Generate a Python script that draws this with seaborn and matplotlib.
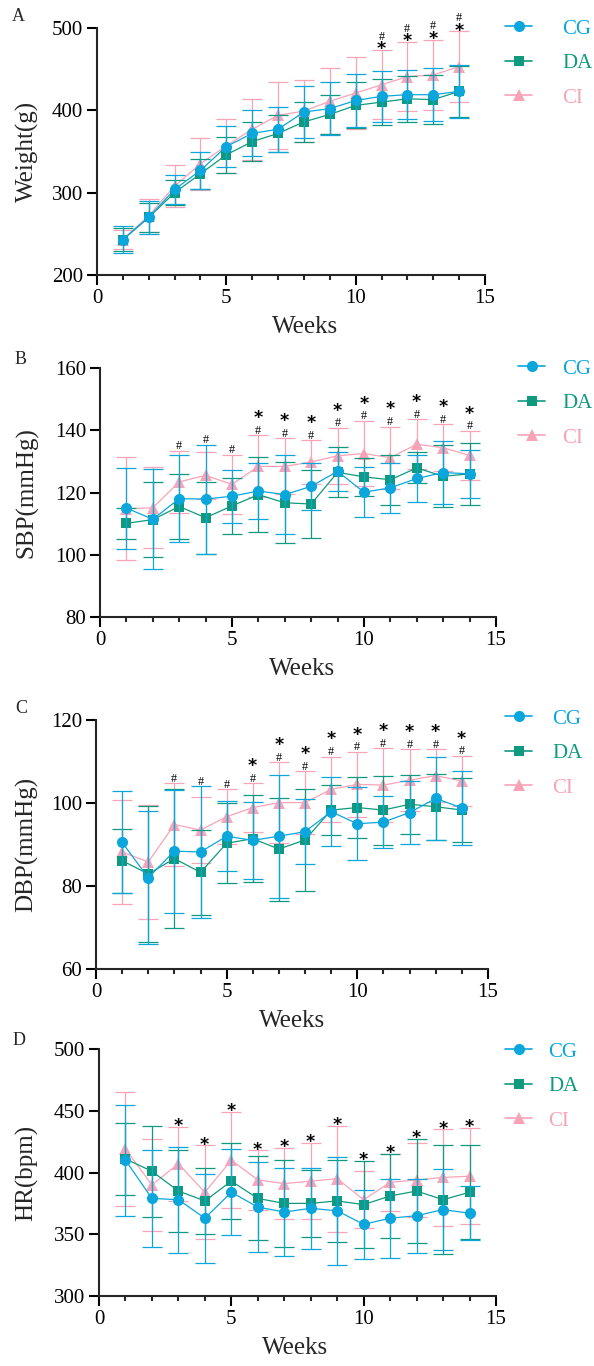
import numpy as np
import pandas as pd
import matplotlib
matplotlib.use('Agg')
import matplotlib.pyplot as plt
from matplotlib.lines import Line2D
from matplotlib.ticker import MultipleLocator
import seaborn as sns

# weekly mean and SD values
weeks = list(range(1, 15))
groups = ['CG', 'DA', 'CI']

weight_cg = [243, 270, 304, 327, 356, 372, 377, 398, 402, 412, 417, 419, 419, 423]
weight_cg_sd = [16, 20, 18, 22, 25, 28, 27, 31, 32, 32, 31, 30, 32, 32]
weight_da = [243, 270, 300, 323, 346, 362, 372, 386, 395, 406, 410, 414, 413, 423]
weight_da_sd = [14, 18, 15, 18, 22, 24, 22, 24, 24, 28, 28, 28, 30, 31]
weight_ci = [243, 272, 308, 335, 357, 377, 394, 399, 411, 421, 431, 441, 443, 453]
weight_ci_sd = [12, 20, 26, 32, 33, 37, 41, 38, 40, 44, 42, 42, 43, 43]

sbp_cg = [115.0, 111.4, 118.0, 117.9, 118.8, 120.5, 119.3, 122.0, 126.8, 120.1, 121.5, 124.5, 126.4, 126.0]
sbp_cg_sd = [13, 16, 14, 17.5, 8.5, 9, 12.7, 7.5, 6.2, 8, 8, 7.5, 10, 7.7]
sbp_da = [110.1, 111.3, 115.5, 111.9, 115.7, 119.3, 116.7, 116.3, 126.5, 125.0, 124.1, 127.9, 125.2, 126.0]
sbp_da_sd = [5, 12, 10.5, 11.5, 9, 12, 13, 11, 8, 6, 8, 5, 10, 10]
sbp_ci = [114.8, 115.1, 123.4, 125.5, 122.6, 128.4, 128.4, 129.8, 131.8, 132.5, 131.2, 135.5, 134.4, 131.9]
sbp_ci_sd = [16.5, 13, 10, 7.5, 9.5, 10, 9, 7, 9, 10.5, 10, 8, 7.5, 8]

dbp_cg = [90.5, 82.0, 88.4, 88.2, 92.0, 91.0, 92.0, 93.1, 97.9, 95.0, 95.4, 97.7, 101.1, 98.8]
dbp_cg_sd = [12.3, 16, 14.8, 15.8, 8.5, 9.3, 14.8, 7.8, 8.3, 8.8, 6.3, 7.5, 9.9, 8.8]
dbp_da = [86.1, 82.9, 86.6, 83.3, 90.3, 91.4, 88.9, 91.1, 98.3, 98.9, 98.3, 99.7, 99.1, 98.3]
dbp_da_sd = [7.7, 16.4, 16.7, 10.3, 9.6, 10.5, 12.4, 12.3, 6, 7.3, 8.3, 7.1, 8, 7.8]
dbp_ci = [88.2, 85.8, 94.8, 93.5, 96.7, 98.9, 100.1, 100.1, 103.3, 104.5, 104.3, 105.5, 106.6, 105.3]
dbp_ci_sd = [12.5, 13.8, 9.9, 7.9, 6.6, 5.8, 9.7, 7.5, 7.9, 7.8, 8.9, 7.4, 6.3, 6]

hr_cg = [410, 379, 378, 363, 384, 372, 368, 371, 369, 358, 363, 365, 370, 367]
hr_cg_sd = [45, 39, 43, 36, 35, 36.5, 35.5, 33, 43.5, 28, 32, 30, 33, 22]
hr_da = [411, 401, 385, 377, 393, 379, 375, 375, 377, 374, 381, 385, 378, 384]
hr_da_sd = [29, 37, 33, 26.5, 31, 34, 35, 27, 33, 35.5, 34, 42, 44, 38]
hr_ci = [419, 390, 407, 384, 410, 394, 391, 393, 395, 378, 392, 394, 396, 397]
hr_ci_sd = [46, 37, 30, 38, 39, 24, 29, 31, 43, 23, 23, 30, 39, 39]

# significance marks (weeks)
weight_star = [11, 12, 13, 14]
weight_hash = [11, 12, 13, 14]
sbp_star = [6, 7, 8, 9, 10, 11, 12, 13, 14]
sbp_hash = [3, 4, 5, 6, 7, 8, 9, 10, 11, 12, 13, 14]
dbp_star = [6, 7, 8, 9, 10, 11, 12, 13, 14]
dbp_hash = [3, 4, 5, 6, 7, 8, 9, 10, 11, 12, 13, 14]
hr_star = [3, 4, 5, 6, 7, 8, 9, 10, 11, 12, 13, 14]
hr_hash = []

colors = {'CG': '#0BA6DC', 'DA': '#0F9A80', 'CI': '#F8A3B7'}
markers = {'CG': 'o', 'DA': 's', 'CI': '^'}
msize = {'CG': 8, 'DA': 7.5, 'CI': 8}
zord = {'CG': 5, 'DA': 4, 'CI': 3}

STAR = r'$\mathbf{*}$'
HASH = r'$_{\#}$'

W, H = 594, 1366
sns.set_style('ticks')
plt.rcParams['font.family'] = 'serif'
plt.rcParams['font.serif'] = ['Liberation Serif', 'DejaVu Serif']
plt.rcParams['mathtext.fontset'] = 'custom'
plt.rcParams['mathtext.rm'] = 'Liberation Serif'
plt.rcParams['mathtext.bf'] = 'DejaVu Sans:bold'
plt.rcParams['mathtext.default'] = 'rm'
plt.rcParams['axes.linewidth'] = 1.5

fig = plt.figure(figsize=(W / 100, H / 100), dpi=100)

# panel setup: letter, ylabel, ylim, yticks, data, stars, hashes, hash_on_top,
# axes box px (left, top, right, bottom), legend (x px, top px, textpad), letter pos, xlabel centre px
panels = [
    ('A', 'Weight(g)', (200, 500), [200, 300, 400, 500],
     (weight_cg, weight_cg_sd, weight_da, weight_da_sd, weight_ci, weight_ci_sd),
     weight_star, weight_hash, True,
     (97, 28, 485, 275), (505, 19, 1.6), (12, 21), 305),
    ('B', 'SBP(mmHg)', (80, 160), [80, 100, 120, 140, 160],
     (sbp_cg, sbp_cg_sd, sbp_da, sbp_da_sd, sbp_ci, sbp_ci_sd),
     sbp_star, sbp_hash, False,
     (100, 368, 496, 617), (518, 359, 0.9), (15, 364), 302),
    ('C', 'DBP(mmHg)', (60, 120), [60, 80, 100, 120],
     (dbp_cg, dbp_cg_sd, dbp_da, dbp_da_sd, dbp_ci, dbp_ci_sd),
     dbp_star, dbp_hash, False,
     (96, 720, 488, 969), (505, 709, 1.07), (15, 713), 292),
    ('D', 'HR(bpm)', (300, 500), [300, 350, 400, 450, 500],
     (hr_cg, hr_cg_sd, hr_da, hr_da_sd, hr_ci, hr_ci_sd),
     hr_star, hr_hash, False,
     (99, 1049, 496, 1296), (505, 1042, 0.85), (13, 1045), 295),
]

for (letter, ylab, ylim, yticks, vals, stars, hashes, hash_top,
     box, leg, lpos, xlab_x) in panels:
    l, t, r, b = box
    ax = fig.add_axes([l / W, 1 - b / H, (r - l) / W, (b - t) / H])

    means = {'CG': vals[0], 'DA': vals[2], 'CI': vals[4]}
    sds = {'CG': vals[1], 'DA': vals[3], 'CI': vals[5]}
    df = pd.DataFrame({
        'week': weeks * 3,
        'value': means['CG'] + means['DA'] + means['CI'],
        'group': ['CG'] * 14 + ['DA'] * 14 + ['CI'] * 14,
    })

    for g in ['CI', 'DA', 'CG']:
        ax.errorbar(weeks, means[g], yerr=sds[g], fmt='none', ecolor=colors[g],
                    elinewidth=0.9, capsize=7, capthick=0.9, zorder=zord[g] - 0.5)
        sub = df[df['group'] == g]
        sns.lineplot(data=sub, x='week', y='value', color=colors[g], marker=markers[g],
                     markersize=msize[g], markeredgewidth=0, linewidth=0.9,
                     ax=ax, legend=False, zorder=zord[g])

    # significance symbols above the highest error bar
    tops = np.max([np.array(means[g]) + np.array(sds[g]) for g in groups], axis=0)
    for wk in weeks:
        has_s = wk in stars
        has_h = wk in hashes
        if not (has_s or has_h):
            continue
        if has_s and has_h:
            if hash_top:
                label, off, ls = HASH + '\n' + STAR, -4.5, 0.8
            else:
                label, off, ls = STAR + '\n' + HASH, -1, 0.56
        elif has_s:
            label, off, ls = STAR, -4.5, 1
        else:
            label, off, ls = HASH, -1, 1
        ax.annotate(label, (wk, tops[wk - 1]), xytext=(0, off), textcoords='offset points',
                    ha='center', va='bottom', ma='center', fontsize=12.5, linespacing=ls,
                    color='black')

    ax.set_xlim(0, 15)
    ax.set_ylim(*ylim)
    ax.set_yticks(yticks)
    ax.set_xticks([0, 5, 10, 15])
    ax.xaxis.set_minor_locator(MultipleLocator(1))
    sns.despine(ax=ax)
    ax.tick_params(axis='both', which='major', direction='out', length=7, width=1.5,
                   labelsize=15, pad=3, colors='black')
    ax.tick_params(axis='x', which='minor', direction='out', length=3.6, width=1.5)
    ax.set_xlabel('')
    ax.set_ylabel('')
    fig.text(xlab_x / W, 1 - (b + 41) / H, 'Weeks', fontsize=18, ha='center', va='top')
    fig.text(27 / W, 1 - (t + b) / 2 / H, ylab, fontsize=18, rotation=90,
             ha='center', va='center')

    handles = [Line2D([0], [0], color=colors[g], marker=markers[g], markersize=msize[g],
                      markeredgewidth=0, linewidth=1.2) for g in groups]
    lx, ly, tpad = leg
    lg = ax.legend(handles, groups, loc='upper left', bbox_to_anchor=(lx / W, 1 - ly / H),
                   bbox_transform=fig.transFigure, frameon=False, fontsize=15,
                   handlelength=1.3, handletextpad=tpad * 0.9, labelspacing=0.72,
                   borderpad=0, borderaxespad=0)
    for txt, g in zip(lg.get_texts(), groups):
        txt.set_color(colors[g])

    fig.text(lpos[0] / W, 1 - lpos[1] / H, letter, fontsize=13, va='baseline', ha='left')

fig.savefig('out.png', dpi=100)
